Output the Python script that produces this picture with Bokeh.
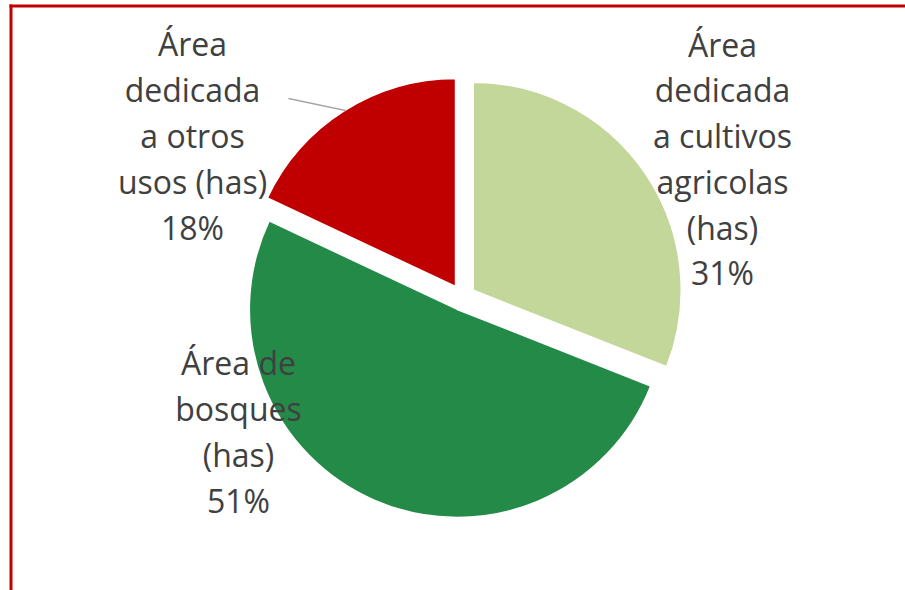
import numpy as np
from bokeh.plotting import figure
from bokeh.models import Range1d, ColumnDataSource
from bokeh.embed import file_html
from bokeh.resources import INLINE
from bokeh.core.properties import value

# ---- data ----
categories = ["Área dedicada a cultivos agricolas (has)",
              "Área de bosques (has)",
              "Área dedicada a otros usos (has)"]
percentages = [31, 51, 18]
colors = ["#C4D79B", "#248A48", "#C00000"]
label_lines = [["Área", "dedicada", "a cultivos", "agricolas", "(has)"],
               ["Área de", "bosques", "(has)"],
               ["Área", "dedicada", "a otros", "usos (has)"]]

# ---- layout (pixel-like data coordinates, y measured from bottom) ----
W, H = 905, 590
CX, CY = 462, H - 297
R = 208
EXPLODE = 13
label_x = [722, 238, 192]
label_y = [H - 158, H - 431, H - 135]

p = figure(width=W, height=H, output_backend="svg", toolbar_location=None,
           x_range=Range1d(0, W), y_range=Range1d(0, H),
           min_border=0, outline_line_color=None)
p.axis.visible = False
p.grid.visible = False
p.background_fill_color = "white"

vals = np.array(percentages, dtype=float)
frac = vals / vals.sum()
cum = np.concatenate([[0], np.cumsum(frac)])
t_start = np.pi / 2 - 2 * np.pi * cum[:-1]
t_end = np.pi / 2 - 2 * np.pi * cum[1:]
mid = (t_start + t_end) / 2
cx = CX + EXPLODE * np.cos(mid)
cy = CY + EXPLODE * np.sin(mid)

src = ColumnDataSource(dict(x=cx, y=cy, s=t_end, e=t_start, c=colors, cat=categories))
p.wedge(x="x", y="y", radius=R, start_angle="s", end_angle="e",
        direction="anticlock", fill_color="c", line_color="white",
        line_width=1.5, source=src)

# labels
texts = ["\n".join(lines + [f"{v}%"]) for lines, v in zip(label_lines, percentages)]
p.text(x=label_x, y=label_y, text=texts, text_align="center",
       text_baseline="middle", text_font=value("Open Sans"),
       text_font_size="32px", text_color="#404040", text_line_height=1.065)

# leader line for the "otros usos" label
p.line(x=[288, 345], y=[H - 98, H - 110], line_color="#A6A6A6", line_width=1.5)

# red frame (top and left edges)
p.quad(left=[9, 9], right=[W, 12], top=[H - 4, H - 4],
       bottom=[H - 7, 0], fill_color="#C00000", line_color=None)

open("out.html", "w").write(file_html(p, INLINE))
